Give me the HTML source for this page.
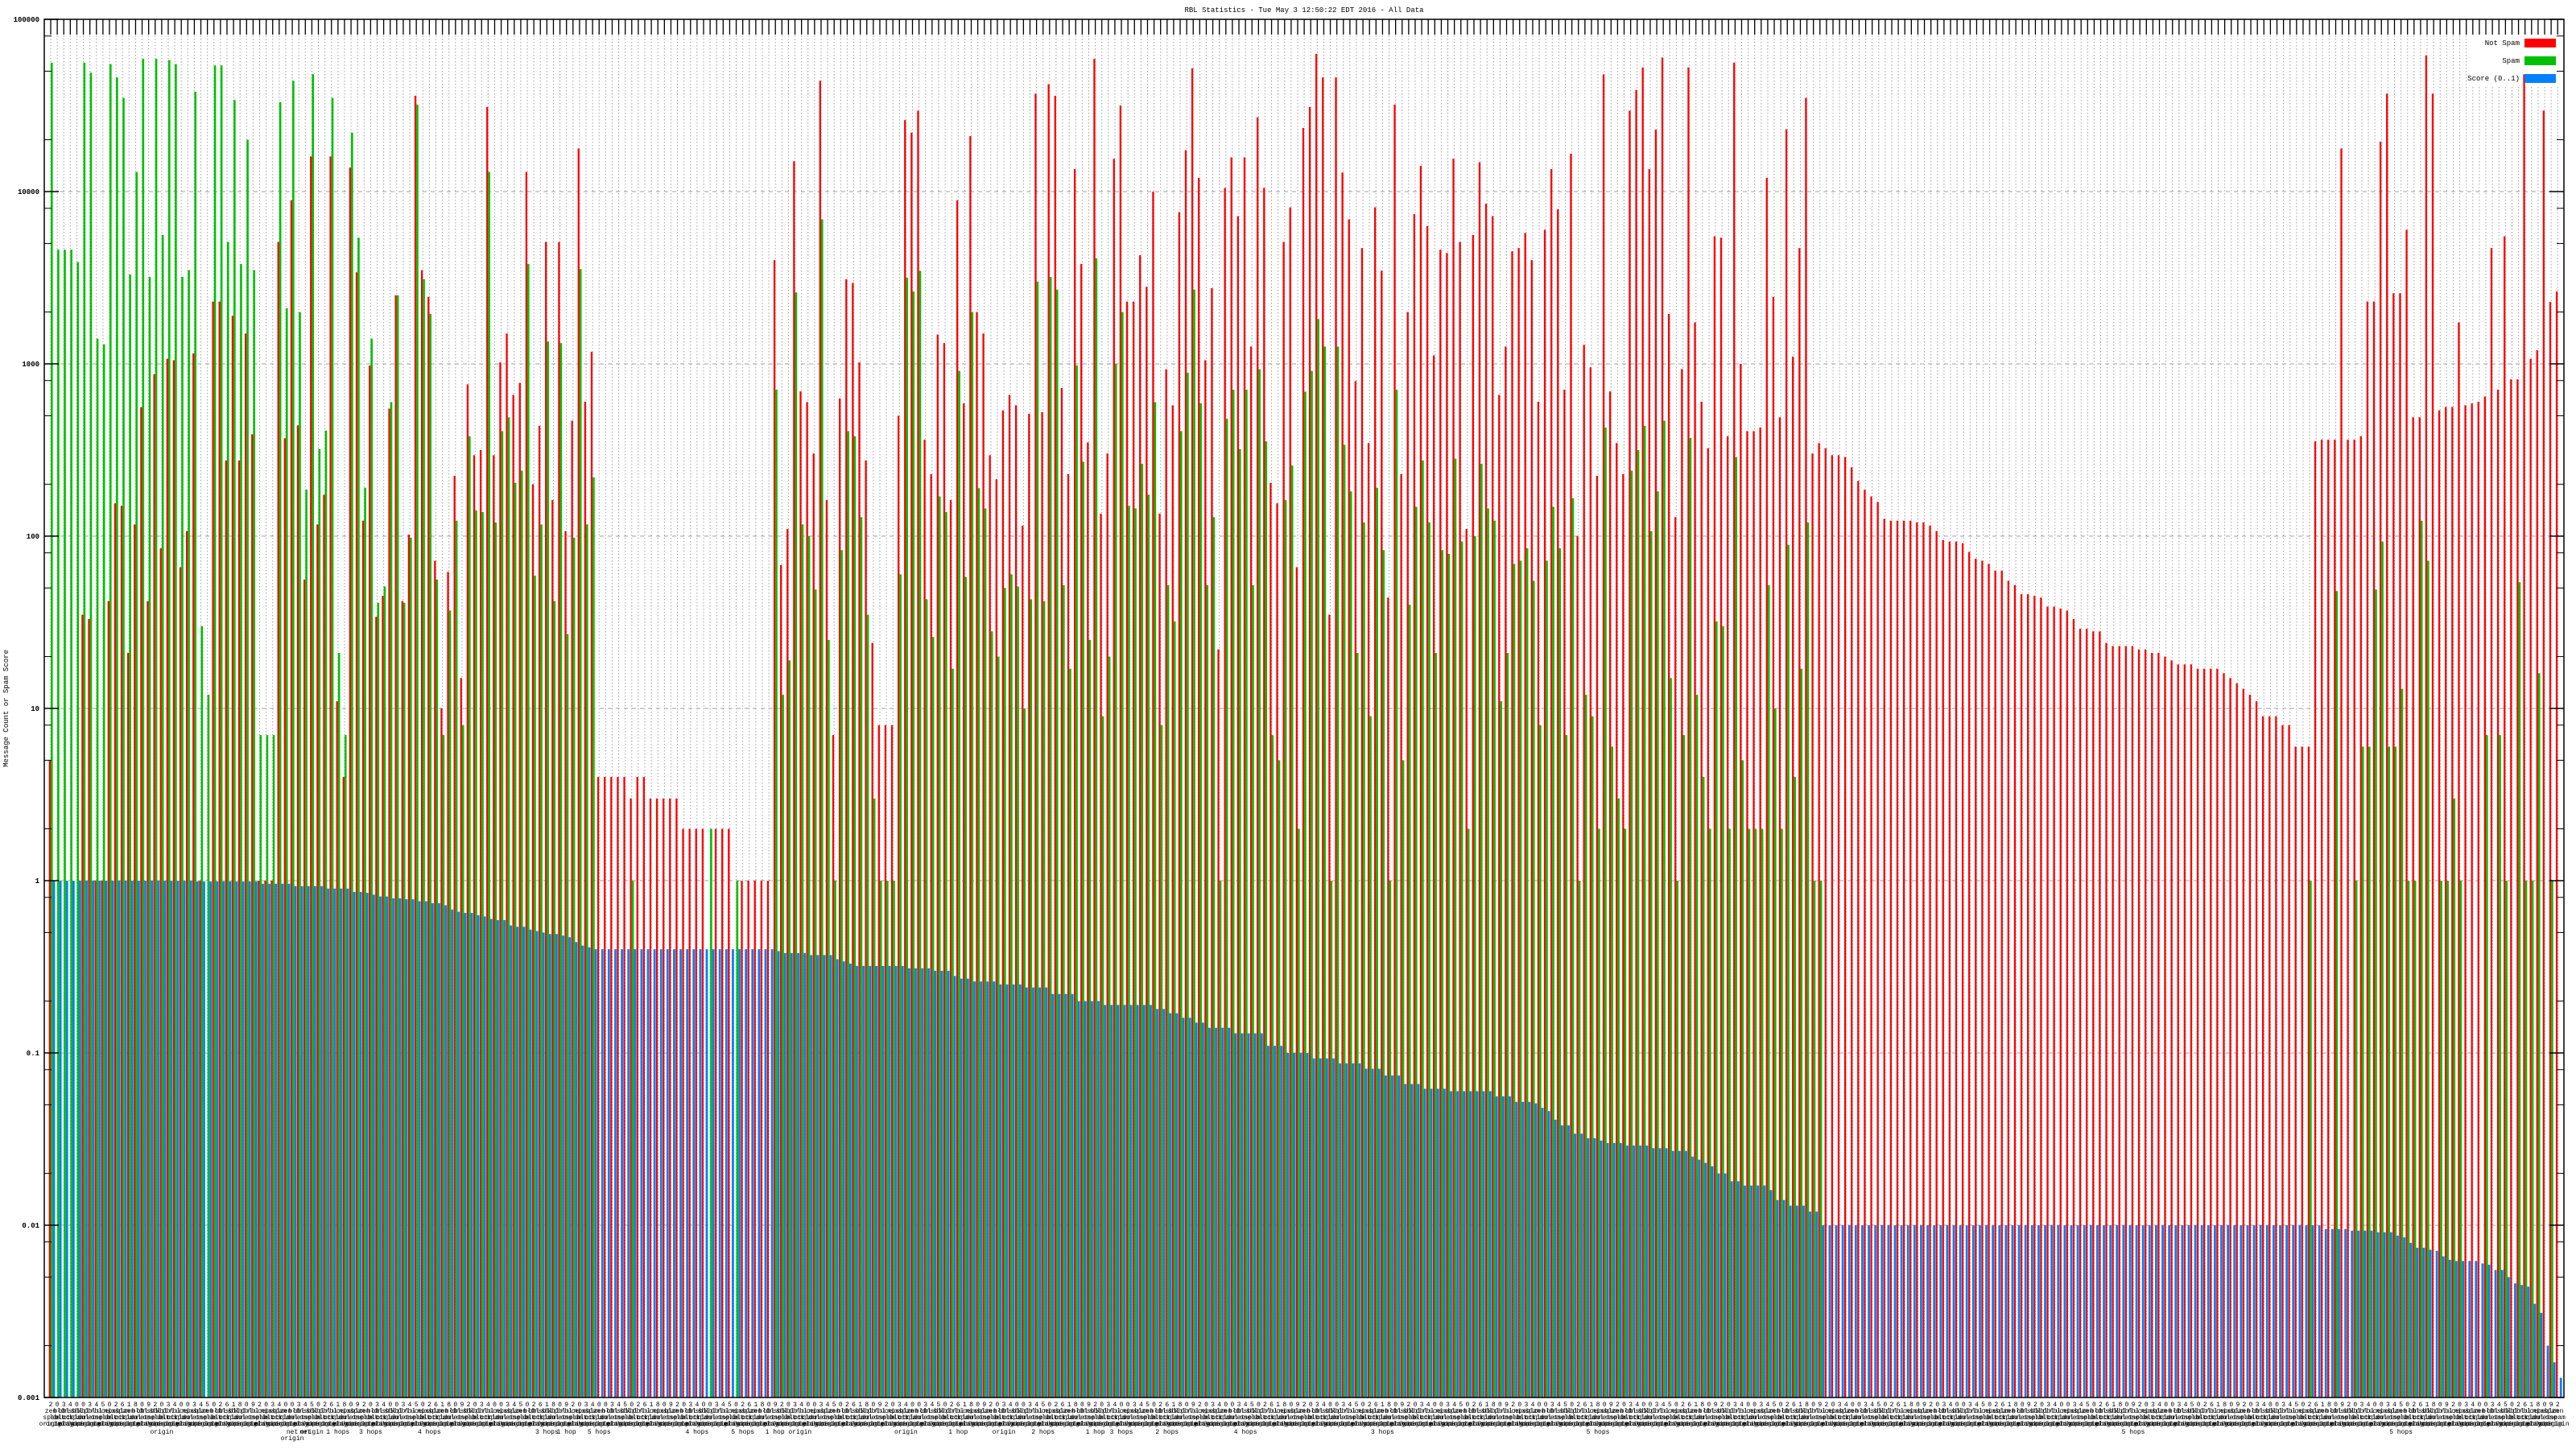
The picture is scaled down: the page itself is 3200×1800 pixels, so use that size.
<!DOCTYPE html>
<html><head><meta charset="utf-8"><title>RBL Statistics</title>
<style>
html,body{margin:0;padding:0;background:#fff;}
svg{display:block;}
text{font-family:"Liberation Mono",monospace;}
</style></head>
<body>
<svg id="chart" xmlns="http://www.w3.org/2000/svg" width="3200" height="1800" viewBox="0 0 3200 1800">
<rect x="0" y="0" width="3200" height="1800" fill="#fff"/>
<text x="1620" y="15" font-size="9" text-anchor="middle" fill="#000">RBL Statistics - Tue May  3 12:50:22 EDT 2016 - All Data</text>
<text transform="translate(10,880) rotate(-90)" font-size="9" text-anchor="middle" fill="#000">Message Count or Spam Score</text>
<g id="grid"></g>
<rect x="3068" y="25" width="116" height="83" fill="#fff"/>
<g id="bars"></g>
<g id="axes"></g>
<g id="xlabels"></g>
<g id="legend">
<text x="3130" y="56" font-size="9" text-anchor="end">Not Spam</text>
<rect x="3136" y="48" width="39" height="11" fill="#ff0000"/>
<text x="3130" y="78" font-size="9" text-anchor="end">Spam</text>
<rect x="3136" y="70" width="39" height="11" fill="#00c000"/>
<text x="3130" y="100" font-size="9" text-anchor="end">Score (0..1)</text>
<rect x="3136" y="92" width="39" height="11" fill="#0080ff"/>
</g>
</svg>
<script>
const notSpam = [5,null,null,null,null,35,33,1,1,42,155,150,21,117,560,42,870,85,1070,1050,66,107,1150,1,null,2300,2300,275,1900,275,1500,390,1,1,1,5100,370,8900,440,56,16000,117,174,16000,11,4,13800,3400,
123,977,34,45,550,2500,42,102,36000,3500,2450,72,10,62,224,15,760,295,316,31000,295,1020,1500,660,776,13000,200,437,5100,162,5100,107,468,17800,603,1175,4,4,4,4,4,3,4,4,3,3,3,3,
3,2,2,2,2,null,2,2,2,null,1,1,1,1,1,4000,68,110,15000,692,600,302,44000,162,7,630,3100,2950,1020,275,24,8,8,8,500,26000,22000,29500,363,229,1480,1320,162,8900,590,21000,2000,1500,
295,214,537,660,575,115,513,37000,525,42000,36000,724,229,13500,3800,350,59000,135,302,15500,31600,2300,2300,4270,2800,10000,135,930,575,7600,17400,52000,12000,1050,2750,22,10500,15800,7200,15800,1260,27000,10500,204,155,5100,8100,66,23400,
31000,63000,46000,35,46000,12900,6900,794,4700,347,8100,3470,44,32000,229,2000,7400,14100,6300,1120,4600,4400,15500,5100,110,5600,14800,8500,7200,661,1260,4500,4700,5750,4000,603,6000,13500,7900,708,16600,100,1290,955,224,47900,692,347,
229,29500,38900,52500,13500,22900,60000,1950,129,933,52500,1740,603,324,5500,5400,380,56000,1000,407,407,427,12000,2450,490,23000,1100,4700,35000,302,347,324,295,295,288,251,209,186,170,158,126,123,123,123,123,120,120,115,107,
95,93,93,91,81,74,72,69,63,63,55,52,46,46,45,44,39,39,38,37,33,29,29,28,28,24,23,23,23,23,22,22,21,21,20,19,18,18,18,17,17,17,17,16,15,14,13,12,
11,9,9,9,8,8,6,6,6,355,363,363,363,17800,363,363,380,2300,2300,19500,37000,2570,2570,6000,490,490,61700,37000,537,562,562,1740,575,589,603,646,4700,708,5500,813,813,47900,1070,1200,29500,2290,2630];
const spam = [56000,4600,4600,4600,3900,56000,49000,1400,1300,55000,46000,35000,3300,13000,59000,3200,59000,5600,58000,55000,3200,3500,38000,30,12,54000,54000,5100,34000,3800,20000,3500,7,7,7,33000,2100,44000,2000,186,48000,320,410,35000,21,7,22000,5400,
191,1400,41,51,600,2500,41,98,32000,3100,1950,56,7,37,123,8,380,141,138,13000,120,407,490,204,240,3800,59,117,1350,42,1320,27,98,3550,117,219,null,null,null,null,null,1,null,null,null,null,null,null,
null,null,null,null,null,2,null,null,null,1,null,null,null,null,null,708,12,19,2600,117,100,49,6900,25,1,83,407,380,129,35,3,1,1,1,60,3160,2630,3470,43,26,170,138,17,910,58,2000,190,145,
28,20,50,60,51,10,43,3000,42,3200,2700,52,17,980,270,25,4100,9,20,1000,2000,150,145,263,174,600,8,52,32,407,890,2700,590,52,129,1,480,708,320,708,52,930,355,7,5,162,257,2,690,
910,1820,1260,1,1260,339,182,21,120,9,191,83,1,708,5,40,148,275,120,21,83,79,282,93,2,100,263,145,123,11,21,69,72,85,55,8,72,148,85,7,166,1,12,9,2,427,6,3,
2,240,316,437,107,182,468,15,1,7,372,12,4,2,32,30,2,288,5,2,2,2,52,10,2,89,4,17,120,1,1,null,null,null,null,null,null,null,null,null,null,null,null,null,null,null,null,null,
null,null,null,null,null,null,null,null,null,null,null,null,null,null,null,null,null,null,null,null,null,null,null,null,null,null,null,null,null,null,null,null,null,null,null,null,null,null,null,null,null,null,null,null,null,null,null,null,
null,null,null,null,null,null,null,null,null,1,null,null,null,48,null,null,1,6,6,49,93,6,6,13,1,1,123,72,null,1,1,3,1,null,null,null,7,null,7,1,null,54,1,1,16,null,1];
const score = [1,1,1,1,1,1,1,1,1,1,1,1,1,1,1,1,1,1,1,1,1,1,0.99,0.99,0.99,0.99,0.99,0.99,0.99,0.99,0.99,0.99,0.96,0.96,0.96,0.96,0.96,0.93,0.93,0.93,0.93,0.93,0.9,0.9,0.9,0.9,0.86,0.86,
0.85,0.83,0.81,0.81,0.79,0.79,0.78,0.78,0.76,0.76,0.74,0.74,0.72,0.68,0.66,0.65,0.65,0.63,0.62,0.6,0.59,0.59,0.55,0.54,0.54,0.52,0.51,0.5,0.49,0.49,0.48,0.47,0.44,0.42,0.41,0.4,0.4,0.4,0.4,0.4,0.4,0.4,0.4,0.4,0.4,0.4,0.4,0.4,
0.4,0.4,0.4,0.4,0.4,0.4,0.4,0.4,0.4,0.4,0.4,0.4,0.4,0.4,0.4,0.39,0.38,0.38,0.38,0.38,0.37,0.37,0.37,0.37,0.35,0.34,0.33,0.32,0.32,0.32,0.32,0.32,0.32,0.32,0.32,0.31,0.31,0.31,0.31,0.3,0.3,0.3,0.28,0.27,0.27,0.26,0.26,0.26,
0.26,0.25,0.25,0.25,0.25,0.24,0.24,0.24,0.24,0.22,0.22,0.22,0.22,0.2,0.2,0.2,0.2,0.19,0.19,0.19,0.19,0.19,0.19,0.19,0.19,0.18,0.18,0.17,0.17,0.16,0.16,0.15,0.15,0.14,0.14,0.14,0.14,0.13,0.13,0.13,0.13,0.13,0.11,0.11,0.11,0.1,0.1,0.1,0.1,
0.093,0.093,0.093,0.093,0.087,0.087,0.087,0.087,0.081,0.081,0.081,0.074,0.074,0.074,0.066,0.066,0.066,0.062,0.062,0.062,0.062,0.06,0.06,0.06,0.06,0.06,0.06,0.06,0.056,0.056,0.056,0.052,0.052,0.052,0.051,0.048,0.046,0.041,0.038,0.038,0.034,0.034,0.032,0.032,0.031,0.03,0.03,0.03,
0.029,0.029,0.029,0.029,0.028,0.028,0.028,0.027,0.027,0.027,0.025,0.024,0.023,0.022,0.02,0.02,0.018,0.018,0.017,0.017,0.017,0.017,0.016,0.014,0.014,0.013,0.013,0.013,0.012,0.012,0.01,0.01,0.01,0.01,0.01,0.01,0.01,0.01,0.01,0.01,0.01,0.01,0.01,0.01,0.01,0.01,0.01,0.01,0.01,
0.01,0.01,0.01,0.01,0.01,0.01,0.01,0.01,0.01,0.01,0.01,0.01,0.01,0.01,0.01,0.01,0.01,0.01,0.01,0.01,0.01,0.01,0.01,0.01,0.01,0.01,0.01,0.01,0.01,0.01,0.01,0.01,0.01,0.01,0.01,0.01,0.01,0.01,0.01,0.01,0.01,0.01,0.01,0.01,0.01,0.01,0.01,0.01,
0.01,0.01,0.01,0.01,0.01,0.01,0.01,0.01,0.01,0.01,0.0095,0.0095,0.0095,0.0095,0.0093,0.0093,0.0093,0.0093,0.0091,0.0091,0.0091,0.0087,0.0085,0.0079,0.0074,0.0074,0.0072,0.0071,0.0066,0.0063,0.0062,0.0062,0.0062,0.0062,0.006,0.0059,0.0055,0.0055,0.005,0.0046,0.0045,0.0044,0.0035,0.0031,0.002,0.0016,0.0013];
const yTickLabels = ["100000","10000","1000","100","10","1","0.1","0.01","0.001"];
const yTickValues = [100000,10000,1000,100,10,1,0.1,0.01,0.001];
const labelLine1 = ["2","0","3","4","0","0","3","4","5","0","2","6","1","8","0","9"];
const labelLine2 = ["zen","bl","cbl","dnsbl","sbl","xbl","pbl","rbl","uce","nix","psbl","spam"];
const labelLine3 = ["spam","list","block","ctrl","spam","dul","net","one"];
const labelLine4 = ["origin","origin","relay","origin","hops","origin"];
const extraLabels = [[17,"origin"],[37,"net"],[39,"net"],[37,"origin"],[40,"origin"],[44,"1 hops"],[49,"3 hops"],[58,"4 hops"],[76,"3 hops"],[79,"1 hop"],[84,"5 hops"],[99,"4 hops"],[106,"5 hops"],[113,"1 hop origin"],[131,"origin"],[139,"1 hop"],[146,"origin"],[152,"2 hops"],[160,"1 hop"],[164,"3 hops"],[171,"2 hops"],[183,"4 hops"],[204,"3 hops"],[237,"5 hops"],[319,"5 hops"],[360,"5 hops"]];

const X0 = 55, X1 = 3185, Y0 = 24, Y1 = 1736, DEC = 214, STEP = 8.11, C0 = 63;
const NS = "http://www.w3.org/2000/svg";
function xFor(i){ return C0 + STEP * i; }
function yFor(v){ return Y0 + (5 - Math.log10(v)) * DEC; }
function mk(tag, attrs, parent){
  const el = document.createElementNS(NS, tag);
  for (const k in attrs) el.setAttribute(k, attrs[k]);
  parent.appendChild(el);
  return el;
}
const grid = document.getElementById('grid');
const bars = document.getElementById('bars');
const axes = document.getElementById('axes');
const xl = document.getElementById('xlabels');
const n = notSpam.length;

// vertical dotted gridlines
for (let i = 0; i < n; i++) {
  const x = xFor(i);
  const yTop = (x > 3068) ? 108 : Y0;
  const g = mk('line', {x1:x, x2:x, y1:yTop, y2:Y1, stroke:'#a0a0a0', 'stroke-width':1, 'stroke-dasharray':'1.5,2.5'}, grid);
  
  
}
// horizontal gridlines
for (let k = 0; k < yTickValues.length; k++) {
  const y = yFor(yTickValues[k]);
  const h = mk('line', {x1:X0, x2:X1, y1:y, y2:y, stroke:'#a0a0a0', 'stroke-width':1, 'stroke-dasharray':'5,5'}, grid);
  
  
}
// bars
for (let i = 0; i < n; i++) {
  const c = xFor(i);
  if (notSpam[i] != null) {
    const y = yFor(notSpam[i]);
    const r = mk('rect', {x:c-2.3, y:y, width:2.3, height:Y1-y, fill:'#ff0000'}, bars);
    
    
  }
  if (spam[i] != null) {
    const y = yFor(spam[i]);
    const g = mk('rect', {x:c, y:y, width:2.6, height:Y1-y, fill:'#00c000'}, bars);
    
    
  }
  if (score[i] != null) {
    const y = yFor(score[i]);
    const b = mk('rect', {x:c+2.6, y:y, width:2.8, height:Y1-y, fill:'#0080ff'}, bars);
    
    
  }
}
// frame
const frame = mk('rect', {x:X0, y:Y0, width:X1-X0, height:Y1-Y0, fill:'none', stroke:'#000', 'stroke-width':1.5}, axes);


// y ticks
for (let k = 0; k < yTickValues.length; k++) {
  const y = yFor(yTickValues[k]);
  const t = mk('text', {x:49, y:y+3, 'font-size':9, 'font-weight':'bold', 'text-anchor':'end', fill:'#000'}, axes);
  t.textContent = yTickLabels[k];
  
  
  mk('line', {x1:X0, x2:X0+18, y1:y, y2:y, stroke:'#000', 'stroke-width':1.5}, axes);
  mk('line', {x1:X1, x2:X1-18, y1:y, y2:y, stroke:'#000', 'stroke-width':1.5}, axes);
  if (k < yTickValues.length - 1) {
    [2,5,8].forEach(function(m){
      const ym = yFor(yTickValues[k+1] * m);
      mk('line', {x1:X0, x2:X0+9, y1:ym, y2:ym, stroke:'#000', 'stroke-width':1}, axes);
      mk('line', {x1:X1, x2:X1-9, y1:ym, y2:ym, stroke:'#000', 'stroke-width':1}, axes);
    });
  }
}
// x ticks (top) and labels
for (let i = 0; i < n; i++) {
  const x = xFor(i);
  const tk = mk('line', {x1:x, x2:x, y1:Y0, y2:Y0+19, stroke:'#000', 'stroke-width':1.3}, axes);
  
  
  const lines = [labelLine1[i % labelLine1.length], labelLine2[i % labelLine2.length], labelLine3[i % labelLine3.length], labelLine4[i % labelLine4.length]];
  for (let L = 0; L < lines.length; L++) {
    const t = mk('text', {x:x, y:1747 + L*8, 'font-size':8, 'text-anchor':'middle', fill:'#000'}, xl);
    t.textContent = lines[L];
    
    
  }
}
const extraRow = {};
extraLabels.forEach(function(e){
  const i = e[0];
  const row = extraRow[i] || 0;
  extraRow[i] = row + 1;
  const t = mk('text', {x:xFor(i), y:1781 + row*8, 'font-size':8, 'text-anchor':'middle', fill:'#000'}, xl);
  t.textContent = e[1];
  
  
});
</script>
</body></html>
